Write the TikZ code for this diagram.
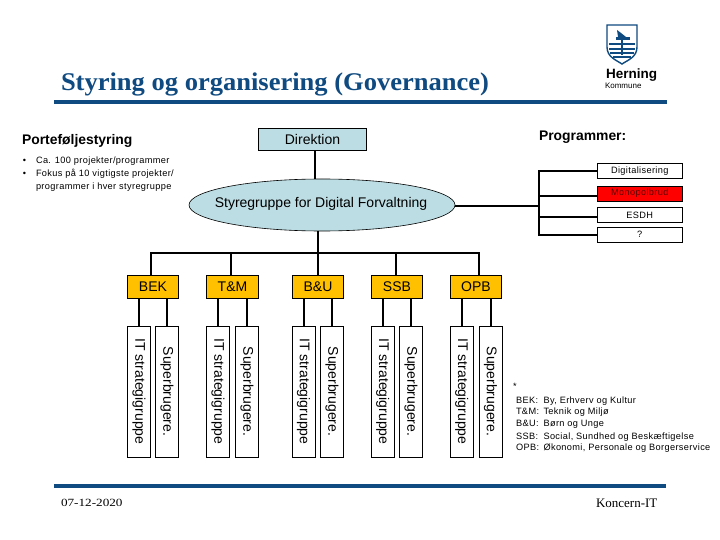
\documentclass[tikz,border=0pt]{standalone}
\usepackage{fontspec}
\setmainfont{Liberation Sans}
\newfontfamily\serifb[FakeStretch=1.04]{Liberation Serif}
\newfontfamily\serifd[FakeStretch=1.2]{Liberation Serif}
\newfontfamily\serifr{Liberation Serif}
\newfontfamily\airy[LetterSpace=4]{Liberation Sans}
\usetikzlibrary{shapes.geometric,calc}
\definecolor{hblue}{HTML}{0F4A80}
\definecolor{paleblue}{HTML}{BCDDE3}
\definecolor{orangebox}{HTML}{FFC000}
\definecolor{redbox}{HTML}{FF0000}
\definecolor{redtext}{HTML}{5A0000}
\tikzset{
 x=1pt,y=-1pt,
 every node/.style={inner sep=0pt,outer sep=0pt,font=\fontsize{14}{16}\selectfont},
 wire/.style={draw=black,line width=2pt},
 thinwire/.style={draw=black,line width=1.6pt},
 rule/.style={draw=hblue,line width=3.6pt},
 topbox/.style={draw=black,line width=.6pt,fill=paleblue,minimum width=108pt,minimum height=22.5pt},
 dept/.style={draw=black,line width=.6pt,fill=orangebox,minimum width=51pt,minimum height=23pt},
 prog/.style={draw=black,line width=.6pt,fill=white,minimum width=85.5pt,minimum height=15pt,font=\airy\fontsize{9.2}{11}\selectfont},
 vert/.style={draw=black,line width=.6pt,fill=white,rotate=-90,minimum width=131pt,minimum height=23pt,font=\fontsize{14}{16}\selectfont},
 head/.style={anchor=west,font=\bfseries\fontsize{13.9}{16}\selectfont},
 small/.style={anchor=base west,yshift=-3pt,font=\airy\fontsize{9.2}{11}\selectfont},
}
\begin{document}
\begin{tikzpicture}
\useasboundingbox (0,0) rectangle (720,540);
\fill[white] (0,0) rectangle (720,540);
% rules and title
\coordinate (r1a) at (54,102); \coordinate (r1b) at (667,102);
\coordinate (r2a) at (54,486); \coordinate (r2b) at (666,486);
\draw[rule] (r1a) -- (r1b);
\draw[rule] (r2a) -- (r2b);
\node[anchor=base west,text=hblue] (title) at (61,90.5) {\serifb\bfseries\fontsize{25.5}{28}\selectfont Styring og organisering (Governance)};
\node[anchor=west] (date) at (61,503) {\serifd\fontsize{11}{13}\selectfont 07-12-2020};
\node[anchor=west] (koncern) at (596,503) {\serifr\fontsize{13}{15}\selectfont Koncern-IT};
% logo
\begin{scope}
\draw[hblue,line width=1.4pt,fill=white] (607,25) -- (637,25) -- (637,47) .. controls (637,57) and (628,60) .. (622,64) .. controls (616,60) and (607,57) .. (607,47) -- cycle;
\fill[hblue] (609,43) rectangle (635,45.5);
\fill[hblue] (609,48) rectangle (635,50);
\fill[hblue] (610,52) rectangle (634,54);
\fill[hblue] (613,56) rectangle (631,58);
\fill[hblue] (620.5,36) rectangle (623,55);
\fill[hblue] (616,37) -- (630,37) -- (630,40) -- (616,40) -- cycle;
\fill[hblue] (617,30) -- (621,33) -- (626,37) -- (618,37) -- cycle;
\end{scope}
\node[anchor=west] (herning) at (606,75.5) {\bfseries\fontsize{13.5}{15}\selectfont Herning};
\node[anchor=west] (kommune) at (605,86) {\fontsize{8}{9}\selectfont Kommune};
% top of the hierarchy
\node[topbox] (dir) at (312.5,139.5) {Direktion};
\node[draw=black,line width=.6pt,fill=paleblue,ellipse,minimum width=266pt,minimum height=52pt] (sty) at (322,205) {};
\node (stylabel) at (321,204) {Styregruppe for Digital Forvaltning};
\node[head] (port) at (22,141) {Porteføljestyring};
\node[head] (progh) at (539,137) {Programmer:};
\node[small] (b1) at (23,161) {•};
\node[small] (t1) at (36,161) {Ca. 100 projekter/programmer};
\node[small] (b2) at (23,174) {•};
\node[small] (t2) at (36,174) {Fokus på 10 vigtigste projekter/};
\node[small] (t3) at (36,187) {programmer i hver styregruppe};
% programmes
\node[prog] (digi) at (639.75,171) {Digitalisering};
\node[prog,fill=redbox,text=redtext] (mono) at (639.75,193.5) {Monopolbrud};
\node[prog] (esdh) at (639.75,215) {ESDH};
\node[prog] (q) at (639.75,234.5) {?};
\coordinate (sp) at (539,206);
\draw[wire] (dir.south -| 315,0) -- (sty.north -| 315,0);
\draw[wire] (sty.east |- sp) -- (sp);
\draw[wire,line cap=rect] (sp |- digi.west) -- (sp |- q.west);
\draw[wire] (sp |- digi.west) -- (digi.west);
\draw[wire] ($(sp |- mono.west)+(0,2.5)$) -- ($(mono.west)+(0,2.5)$);
\draw[wire] ($(sp |- esdh.west)+(0,2)$) -- ($(esdh.west)+(0,2)$);
\draw[wire] (sp |- q.west) -- (q.west);
% departments
\node[dept] (bek) at (153,286.5) {BEK};
\node[dept,minimum width=51.5pt] (tm) at (232.5,286.5) {T\&M};
\node[dept] (bu) at (318,286.5) {B\&U};
\node[dept] (ssb) at (397,286.5) {SSB};
\node[dept] (opb) at (476,286.5) {OPB};
\coordinate (busL) at (151,253);
\coordinate (busR) at (479,253);
\coordinate (busM) at (318,253);
\draw[wire] (sty.south -| busM) -- (busM);
\draw[thinwire,line cap=rect] (busL) -- (busR);
\coordinate (thA) at (274,253); \coordinate (thB) at (355,253);
\draw[line width=2.4pt] (thA) -- (thB);
\draw[wire] (busL) -- (busL |- bek.north);
\draw[wire] (231,253) -- (tm.north -| 231,0);
\draw[wire] (busM) -- (bu.north);
\draw[wire] (396,253) -- (ssb.north -| 396,0);
\draw[thinwire] (busR) -- (opb.north -| busR);
% columns
\foreach \n/\d/\xa/\xb in {bek/bek/139/167,tm/tm/218/247,bu/bu/303.5/332,ssb/ssb/382.7/411,opb/opb/461.7/490.5}{
 \node[vert] (\n i) at (\xa,391.5) {IT strategigruppe};
 \node[vert] (\n s) at (\xb,391.5) {Superbrugere.};
 \draw[wire] (\n i.west |- \d.south) -- (\n i.west);
 \draw[wire] (\n s.west |- \d.south) -- (\n s.west);
}
% legend
\node[small] (star) at (513,386) {*};
\foreach \k/\a/\b/\y in {l1/BEK:/{By, Erhverv og Kultur}/400,l2/T\&M:/{Teknik og Miljø}/411.7,l3/B\&U:/{Børn og Unge}/423.7,l4/SSB:/{Social, Sundhed og Beskæftigelse}/436,l5/OPB:/{Økonomi, Personale og Borgerservice}/447.5}{
 \node[small] (\k a) at (516,\y) {\a};
 \node[small] (\k b) at (543.5,\y) {\b};
}
\end{tikzpicture}
\end{document}
